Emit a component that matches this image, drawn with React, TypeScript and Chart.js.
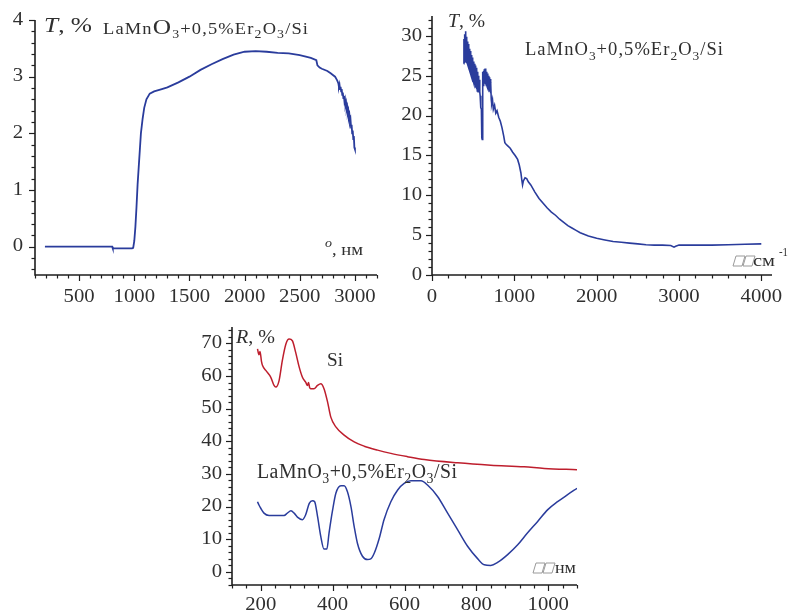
import React, { useEffect, useRef } from "react";
import { Chart, registerables } from "chart.js";

Chart.register(...registerables);

const SERIF = '"Liberation Serif", "Times New Roman", Tinos, Times, serif';
const BLUE = "#2a3c9c";
const RED = "#be1e2d";
const AXIS = "#1e1e1e";
const TEXT = "#2f2f2f";

// ---------- Panel A: T(λ), nm ----------
const aLambda = [190, 800, 805, 980, 990, 1000, 1010, 1020, 1030, 1040, 1050, 1060, 1075, 1090, 1110, 1140, 1180, 1250, 1300, 1400, 1500, 1600, 1700, 1800, 1900, 2000, 2100, 2200, 2300, 2400, 2500, 2600, 2650, 2660, 2680, 2700, 2750, 2780, 2800, 2820, 2840, 2850, 2855, 2860, 2865, 2870, 2875, 2880, 2885, 2890, 2895, 2900, 2905, 2910, 2915, 2920, 2925, 2930, 2935, 2940, 2945, 2950, 2955, 2960, 2965, 2970, 2975, 2980, 2985, 2990, 2995, 3000];
const aT = [0, 0, -0.03, -0.03, -0.02, 0.1, 0.35, 0.7, 1.1, 1.4, 1.7, 2.0, 2.25, 2.45, 2.6, 2.7, 2.74, 2.78, 2.81, 2.9, 3.0, 3.12, 3.22, 3.31, 3.39, 3.44, 3.45, 3.44, 3.42, 3.41, 3.38, 3.33, 3.29, 3.2, 3.16, 3.14, 3.1, 3.06, 3.03, 3.0, 2.93, 2.88, 2.82, 2.86, 2.78, 2.82, 2.74, 2.78, 2.68, 2.72, 2.62, 2.66, 2.56, 2.6, 2.5, 2.54, 2.43, 2.47, 2.36, 2.4, 2.28, 2.32, 2.2, 2.24, 2.1, 2.15, 2.0, 2.05, 1.9, 1.95, 1.75, 1.72];
const aXLabels = [500, 1000, 1500, 2000, 2500, 3000];
const aYLabels = [0, 1, 2, 3, 4];

// ---------- Panel B: T(ν), cm-1 ----------
const bWavenumber = [385, 388, 391, 394, 397, 400, 403, 406, 409, 412, 415, 418, 421, 425, 428, 432, 436, 440, 444, 448, 452, 456, 460, 464, 468, 472, 476, 480, 484, 488, 492, 496, 500, 505, 510, 515, 520, 525, 530, 535, 540, 545, 550, 555, 560, 565, 570, 575, 580, 585, 590, 595, 600, 605, 610, 614, 618, 622, 626, 630, 635, 640, 645, 650, 655, 660, 665, 670, 675, 680, 685, 690, 695, 700, 705, 710, 715, 720, 725, 735, 745, 760, 775, 790, 810, 830, 850, 870, 885, 900, 920, 950, 980, 1010, 1040, 1060, 1080, 1090, 1100, 1110, 1130, 1150, 1170, 1200, 1250, 1300, 1350, 1400, 1450, 1500, 1550, 1600, 1650, 1700, 1750, 1800, 1900, 2000, 2100, 2200, 2300, 2400, 2500, 2600, 2700, 2800, 2900, 2940, 2960, 3000, 3200, 3400, 3600, 3800, 4000];
const bT = [26.5, 29.6, 26.7, 29.9, 26.8, 30.2, 27.0, 30.6, 26.9, 30.3, 27.0, 29.9, 26.8, 29.6, 26.6, 29.3, 26.4, 29.0, 26.1, 28.7, 25.8, 28.4, 25.6, 28.1, 25.3, 27.8, 25.0, 27.6, 24.8, 27.3, 24.6, 27.0, 24.4, 26.8, 24.1, 26.5, 23.8, 26.3, 23.5, 26.0, 23.3, 25.8, 23.1, 25.5, 23.0, 25.0, 23.2, 24.5, 23.0, 22.5, 21.2, 21.0, 20.8, 17.2, 17.0, 18.0, 25.5, 23.8, 25.6, 23.9, 25.8, 24.0, 25.9, 23.9, 25.7, 23.8, 25.5, 23.6, 25.3, 23.4, 25.0, 23.2, 24.8, 23.0, 24.6, 22.8, 24.2, 22.0, 21.5, 22.0, 20.8, 21.3, 20.3, 20.6, 19.8, 19.3, 18.5, 17.5, 16.6, 16.4, 16.2, 15.9, 15.4, 15.0, 14.5, 13.8, 12.8, 12.0, 11.3, 11.8, 12.2, 12.1, 11.7, 11.3, 10.4, 9.6, 9.0, 8.4, 7.9, 7.5, 7.0, 6.6, 6.2, 5.9, 5.6, 5.3, 4.9, 4.6, 4.4, 4.2, 4.1, 4.0, 3.9, 3.8, 3.75, 3.75, 3.7, 3.5, 3.6, 3.75, 3.75, 3.75, 3.8, 3.85, 3.9];
const bXLabels = [0, 1000, 2000, 3000, 4000];
const bYLabels = [0, 5, 10, 15, 20, 25, 30];

// ---------- Panel C: R(λ), nm ----------
const cLambdaSi = [191, 195, 198, 202, 205, 214, 228, 237, 242, 251, 260, 270, 279, 288, 297, 307, 316, 325, 330, 333, 336, 339, 348, 358, 367, 376, 386, 395, 409, 432, 460, 488, 525, 562, 608, 655, 748, 840, 933, 989, 1080];
const cRSi = [68.3, 66.5, 67.5, 64.5, 63.2, 61.7, 59.6, 57.1, 56.6, 58.6, 64.7, 69.8, 71.3, 70.8, 67.3, 62.7, 59.6, 58.1, 57.1, 58.0, 56.5, 56.1, 56.1, 57.1, 57.6, 56.1, 52.0, 47.4, 44.4, 41.9, 39.8, 38.5, 37.3, 36.3, 35.3, 34.4, 33.4, 32.7, 32.2, 31.7, 31.3];
const cLambdaFilm = [191, 195, 200, 209, 223, 265, 274, 284, 293, 302, 316, 325, 335, 344, 350, 358, 367, 376, 384, 390, 400, 409, 423, 432, 441, 451, 460, 469, 483, 497, 506, 516, 530, 543, 562, 581, 599, 618, 646, 664, 692, 720, 748, 776, 804, 822, 840, 859, 887, 915, 942, 970, 998, 1026, 1053, 1080];
const cRFilm = [21.5, 20.5, 19.5, 18.0, 17.3, 17.3, 18.0, 18.7, 18.0, 16.8, 16.0, 17.5, 21.0, 21.8, 21.5, 17.0, 10.9, 7.0, 7.0, 11.9, 19.0, 24.1, 26.4, 26.4, 24.6, 20.0, 13.9, 8.8, 4.8, 3.8, 4.0, 5.8, 10.4, 16.0, 21.5, 25.1, 27.1, 27.9, 27.9, 26.6, 23.1, 18.0, 12.9, 7.8, 4.0, 2.2, 2.0, 2.9, 5.3, 8.3, 11.9, 15.4, 19.0, 21.5, 23.6, 25.6];
const cXLabels = [200, 400, 600, 800, 1000];
const cYLabels = [0, 10, 20, 30, 40, 50, 60, 70];

type Run = { t: string; size: number; italic?: boolean; dy?: number };
type Note = { runs: Run[]; x: number; y: number; width?: number; spacing?: number };
type Axis = { min: number; max: number; minor: number; labels: number[] };
type Series = { xs: number[]; ys: number[]; color: string; width: number; smooth?: boolean };
type PanelCfg = {
  left: number; top: number; width: number; height: number;
  pad: { left: number; right: number; top: number; bottom: number };
  x: Axis; y: Axis;
  yGap: number; xGap: number;
  series: Series[];
  notes: Note[];
  boxes: { x: number; y: number }[];
};

const formula = (s: number, sub: number, dy: number, bigO?: number): Run[] => [
  { t: "LaMn", size: s },
  { t: "O", size: bigO || s },
  { t: "3", size: sub, dy },
  { t: "+0,5%Er", size: s },
  { t: "2", size: sub, dy },
  { t: "O", size: s },
  { t: "3", size: sub, dy },
  { t: "/Si", size: s },
];

function fontOf(r: Run) {
  return `${r.italic ? "italic " : ""}${r.size}px ${SERIF}`;
}

function drawNote(ctx: CanvasRenderingContext2D, n: Note, ox: number, oy: number) {
  const sp = n.spacing || 0;
  let w = 0;
  for (const r of n.runs) {
    ctx.font = fontOf(r);
    for (const ch of r.t) w += ctx.measureText(ch).width + sp;
  }
  w -= sp;
  const hs = n.width ? n.width / w : 1;
  ctx.save();
  ctx.translate(n.x - ox, n.y - oy);
  ctx.scale(hs, 1);
  ctx.fillStyle = TEXT;
  ctx.textAlign = "left";
  ctx.textBaseline = "alphabetic";
  let cx = 0;
  for (const r of n.runs) {
    ctx.font = fontOf(r);
    for (const ch of r.t) {
      ctx.fillText(ch, cx, r.dy || 0);
      cx += ctx.measureText(ch).width + sp;
    }
  }
  ctx.restore();
}

function stepValues(a: Axis) {
  const out: number[] = [];
  const first = Math.ceil(a.min / a.minor - 1e-9);
  for (let i = first; i * a.minor <= a.max + 1e-9; i++) out.push(Math.round(i * a.minor * 1000) / 1000);
  return out;
}

function makePlugin(cfg: PanelCfg) {
  return {
    id: "sciAxes",
    afterDraw(chart: any) {
      const ctx: CanvasRenderingContext2D = chart.ctx;
      const a = chart.chartArea;
      const xs = chart.scales.x;
      const ys = chart.scales.y;
      ctx.save();
      ctx.strokeStyle = AXIS;
      ctx.lineWidth = 1.6;
      ctx.beginPath();
      ctx.moveTo(a.left, a.top);
      ctx.lineTo(a.left, a.bottom);
      ctx.lineTo(a.right, a.bottom);
      ctx.stroke();
      ctx.lineWidth = 1.2;
      const isMajor = (v: number, labels: number[]) => labels.some((l) => Math.abs(l - v) < 1e-6);
      for (const v of stepValues(cfg.x)) {
        const px = Math.round(xs.getPixelForValue(v)) + 0.5;
        const len = isMajor(v, cfg.x.labels) ? 6 : 3.5;
        ctx.beginPath();
        ctx.moveTo(px, a.bottom);
        ctx.lineTo(px, a.bottom + len);
        ctx.stroke();
      }
      for (const v of stepValues(cfg.y)) {
        const py = Math.round(ys.getPixelForValue(v)) + 0.5;
        const len = isMajor(v, cfg.y.labels) ? 6 : 3.5;
        ctx.beginPath();
        ctx.moveTo(a.left, py);
        ctx.lineTo(a.left - len, py);
        ctx.stroke();
      }
      ctx.fillStyle = TEXT;
      ctx.font = `18px ${SERIF}`;
      ctx.textBaseline = "middle";
      for (const v of cfg.x.labels) {
        ctx.save();
        ctx.translate(xs.getPixelForValue(v), a.bottom + cfg.xGap);
        ctx.scale(1.15, 1);
        ctx.textAlign = "center";
        ctx.fillText(String(v), 0, 0);
        ctx.restore();
      }
      for (const v of cfg.y.labels) {
        ctx.save();
        ctx.translate(a.left - cfg.yGap, ys.getPixelForValue(v));
        ctx.scale(1.15, 1);
        ctx.textAlign = "right";
        ctx.fillText(String(v), 0, 0);
        ctx.restore();
      }
      for (const n of cfg.notes) drawNote(ctx, n, cfg.left, cfg.top);
      ctx.strokeStyle = "#9a9a9a";
      ctx.lineWidth = 1;
      for (const b of cfg.boxes) {
        for (let i = 0; i < 2; i++) {
          const x0 = b.x - cfg.left + i * 10;
          const yb = b.y - cfg.top;
          ctx.beginPath();
          ctx.moveTo(x0, yb);
          ctx.lineTo(x0 + 9, yb);
          ctx.lineTo(x0 + 12, yb - 10);
          ctx.lineTo(x0 + 3, yb - 10);
          ctx.closePath();
          ctx.stroke();
        }
      }
      ctx.restore();
    },
  };
}

const panelA: PanelCfg = {
  left: 0, top: 0, width: 390, height: 310,
  pad: { left: 35, right: 13, top: 20, bottom: 35 },
  x: { min: 100, max: 3200, minor: 100, labels: aXLabels },
  y: { min: -0.5, max: 4, minor: 0.2, labels: aYLabels },
  yGap: 12, xGap: 22,
  series: [{ xs: aLambda, ys: aT, color: BLUE, width: 1.8 }],
  notes: [
    { runs: [{ t: "T", size: 21, italic: true }, { t: ", %", size: 21 }], x: 44, y: 32, width: 48 },
    { runs: formula(16, 12, 4, 22), x: 103, y: 34, width: 205, spacing: 1 },
    { runs: [{ t: "o", size: 12, italic: true, dy: -8 }, { t: ", нм", size: 16 }], x: 325, y: 255, width: 38 },
  ],
  boxes: [],
};

const panelB: PanelCfg = {
  left: 390, top: 0, width: 401, height: 310,
  pad: { left: 42, right: 19, top: 16, bottom: 35 },
  x: { min: 0, max: 4130, minor: 200, labels: bXLabels },
  y: { min: 0, max: 32.5, minor: 1, labels: bYLabels },
  yGap: 10, xGap: 22,
  series: [{ xs: bWavenumber, ys: bT, color: BLUE, width: 1.6 }],
  notes: [
    { runs: [{ t: "T", size: 18, italic: true }, { t: ", %", size: 18 }], x: 448, y: 27, width: 37 },
    { runs: formula(18, 13, 5), x: 525, y: 55, width: 198, spacing: 1 },
    { runs: [{ t: "см", size: 17 }], x: 753, y: 266, width: 22 },
    { runs: [{ t: "-1", size: 12 }], x: 779, y: 256, width: 9 },
  ],
  boxes: [{ x: 733, y: 266 }],
};

const panelC: PanelCfg = {
  left: 190, top: 310, width: 410, height: 300,
  pad: { left: 42, right: 23, top: 17, bottom: 25 },
  x: { min: 120, max: 1080, minor: 40, labels: cXLabels },
  y: { min: -4, max: 75, minor: 2, labels: cYLabels },
  yGap: 10, xGap: 20,
  series: [
    { xs: cLambdaSi, ys: cRSi, color: RED, width: 1.5, smooth: true },
    { xs: cLambdaFilm, ys: cRFilm, color: BLUE, width: 1.5, smooth: true },
  ],
  notes: [
    { runs: [{ t: "R", size: 18, italic: true }, { t: ", %", size: 18 }], x: 236, y: 343, width: 39 },
    { runs: [{ t: "Si", size: 19 }], x: 327, y: 366, width: 16 },
    { runs: formula(20, 14, 5), x: 257, y: 478, width: 200, spacing: 0.5 },
    { runs: [{ t: "нм", size: 17 }], x: 555, y: 573, width: 21 },
  ],
  boxes: [{ x: 533, y: 573 }],
};

function Panel({ cfg }: { cfg: PanelCfg }) {
  const ref = useRef<HTMLCanvasElement>(null);
  useEffect(() => {
    const canvas = ref.current;
    if (!canvas) return;
    const chart = new Chart(canvas, {
      type: "line",
      data: {
        datasets: cfg.series.map((s) => ({
          data: s.xs.map((x, i) => ({ x, y: s.ys[i] })),
          borderColor: s.color,
          borderWidth: s.width,
          pointRadius: 0,
          fill: false,
          tension: s.smooth ? 0.4 : 0,
          cubicInterpolationMode: s.smooth ? "monotone" : "default",
        })),
      } as any,
      options: {
        responsive: false,
        animation: false,
        events: [],
        layout: { padding: cfg.pad },
        scales: {
          x: { type: "linear", min: cfg.x.min, max: cfg.x.max, display: false },
          y: { type: "linear", min: cfg.y.min, max: cfg.y.max, display: false },
        },
        plugins: { legend: { display: false }, tooltip: { enabled: false } },
      } as any,
      plugins: [makePlugin(cfg) as any],
    });
    return () => chart.destroy();
  }, [cfg]);
  return (
    <canvas
      ref={ref}
      width={cfg.width}
      height={cfg.height}
      style={{ position: "absolute", left: cfg.left, top: cfg.top, width: cfg.width, height: cfg.height }}
    />
  );
}

export default function App() {
  return (
    <div style={{ position: "absolute", left: 0, top: 0, width: 791, height: 610, background: "#fff" }}>
      <Panel cfg={panelA} />
      <Panel cfg={panelB} />
      <Panel cfg={panelC} />
    </div>
  );
}
